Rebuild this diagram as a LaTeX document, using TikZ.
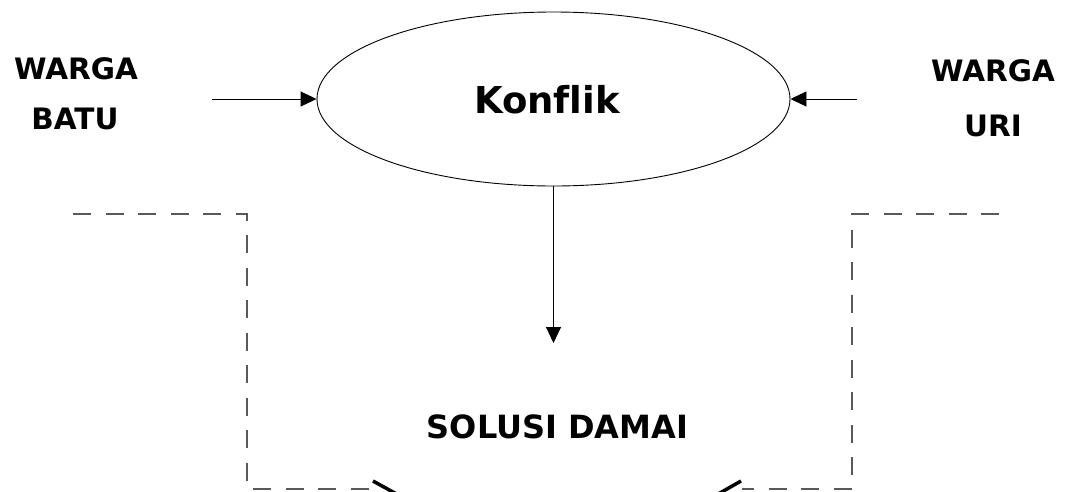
\documentclass[tikz,border=0pt]{standalone}
\usepackage{fontspec}
\setmainfont[Ligatures=NoCommon]{DejaVu Sans}
\usetikzlibrary{arrows.meta,shapes.geometric}
\tikzset{
  x=1pt, y=-1pt,
  conn/.style={line width=0.9pt, -{Triangle[length=16pt,width=15pt]}},
  frame/.style={line width=1.2pt, draw=black!65, dash pattern=on 18pt off 14.5pt},
  heavy/.style={line width=3.5pt, line cap=butt},
  lbl/.style={font=\fontsize{29.5}{30}\selectfont\bfseries, inner sep=0pt},
}
\begin{document}
\begin{tikzpicture}
\useasboundingbox (0,0) rectangle (1071,491);
\clip (0,0) rectangle (1071,491);

% central conflict ellipse and its title
\node[draw, line width=0.9pt, ellipse, minimum width=473pt, minimum height=174pt,
      inner sep=0pt] (konflik) at (553.5,99) {};
\node[font=\fontsize{37}{38}\selectfont\bfseries, inner sep=0pt] (konflikTitle) at (547,100) {Konflik};

% the two parties
\node[lbl] (wargaL) at (76,69) {WARGA};
\node[lbl] (batu)   at (75,119) {BATU};
\node[lbl] (wargaR) at (993,71) {WARGA};
\node[lbl] (uri)    at (993,126) {URI};

% arrows into and out of the conflict
\coordinate (inL) at (212,99);
\coordinate (inR) at (857,99);
\coordinate (down) at (553.5,343);
\draw[conn] (inL) -- (konflik.west);
\draw[conn] (inR) -- (konflik.east);
\draw[conn] (konflik.south) -- (down);

% outcome
\node[font=\fontsize{32}{33}\selectfont\bfseries, inner sep=0pt] (solusi) at (557.5,427) {SOLUSI DAMAI};

% dashed enclosures
\coordinate (fl1) at (73,214);
\coordinate (fl2) at (247,214);
\coordinate (fl3) at (247,489);
\coordinate (fl4) at (372,489);
\coordinate (fr1) at (999,214);
\coordinate (fr2) at (852,214);
\coordinate (fr3) at (852,489);
\coordinate (fr4) at (742,489);
\draw[frame] (fl1) -- (fl2) -- (fl3) -- (fl4);
\draw[frame] (fr1) -- (fr2) -- (fr3) -- (fr4);

% heavy strokes at the lower edge
\coordinate (hl1) at (373,481);
\coordinate (hl2) at (402,497);
\coordinate (hr1) at (741,481);
\coordinate (hr2) at (713,497);
\draw[heavy] (hl1) -- (hl2);
\draw[heavy] (hr1) -- (hr2);
\end{tikzpicture}
\end{document}
